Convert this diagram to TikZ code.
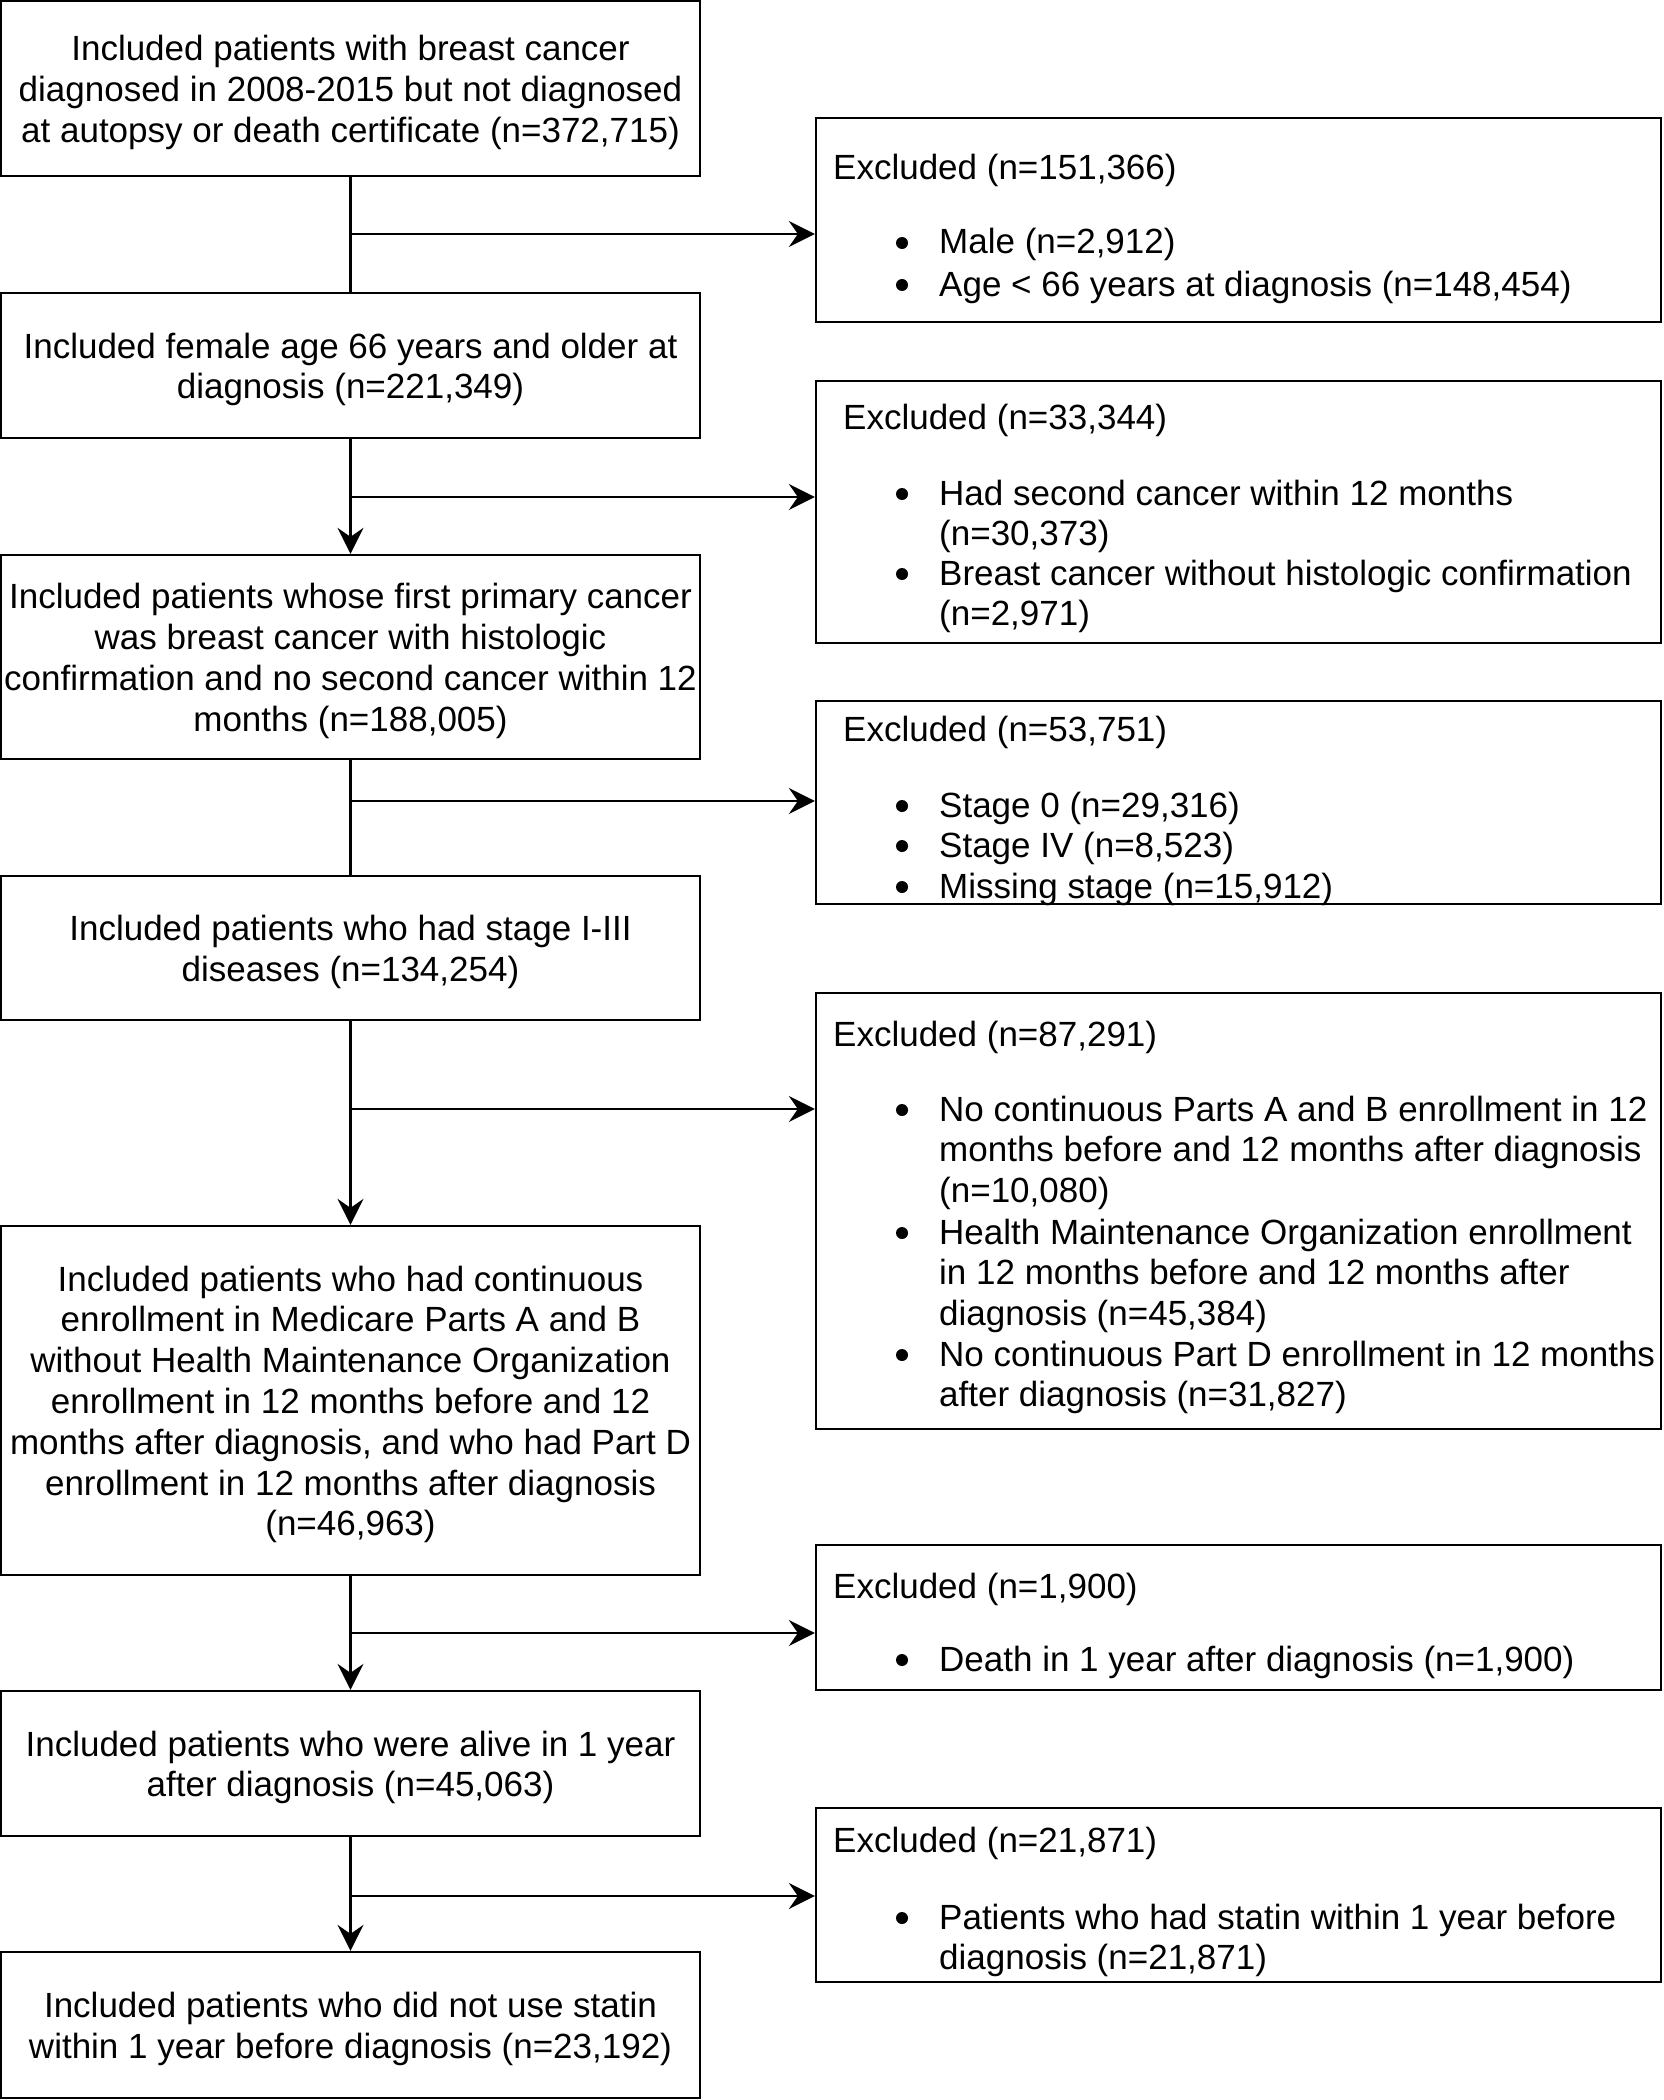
\documentclass[tikz,border=0pt]{standalone}
\usepackage{fontspec}
\setmainfont{Liberation Sans}
\usetikzlibrary{arrows.meta}
\tikzset{
  lw/.style={line width=2.3pt},
  leftbox/.style={draw, lw, rectangle, inner sep=0pt, minimum width=699pt},
  ltxt/.style={inner sep=0pt, align=center},
  rightbox/.style={draw, lw, rectangle, inner sep=0pt, minimum width=845pt},
  txt/.style={inner sep=0pt, anchor=base west},
  dot/.style={circle, fill, inner sep=0pt, minimum size=12pt},
  conn/.style={lw},
  arr/.style={lw, -{Stealth[length=26pt, width=26pt, inset=9pt]}},
}
\begin{document}
\begin{tikzpicture}[x=1pt, y=-1pt, font=\fontsize{35}{40.8}\selectfont]
\useasboundingbox (0,0) rectangle (1663,2100);
% left column
\node[leftbox, minimum height=175pt] (b1) at (350.5,88.5) {};
\node[leftbox, minimum height=145pt] (b2) at (350.5,365.5) {};
\node[leftbox, minimum height=204pt] (b3) at (350.5,657) {};
\node[leftbox, minimum height=144pt] (b4) at (350.5,948) {};
\node[leftbox, minimum height=349pt] (b5) at (350.5,1400.5) {};
\node[leftbox, minimum height=145pt] (b6) at (350.5,1763.5) {};
\node[leftbox, minimum height=146pt] (b7) at (350.5,2025) {};
\node[ltxt] (b1t) at ([yshift=-4pt]b1.center) {Included patients with breast cancer\\diagnosed in 2008-2015 but not diagnosed\\at autopsy or death certificate (n=372,715)};
\node[ltxt] (b2t) at ([yshift=-4pt]b2.center) {Included female age 66 years and older at\\diagnosis (n=221,349)};
\node[ltxt] (b3t) at ([yshift=-4pt]b3.center) {Included patients whose first primary cancer\\was breast cancer with histologic\\confirmation and no second cancer within 12\\months (n=188,005)};
\node[ltxt] (b4t) at ([yshift=-4pt]b4.center) {Included patients who had stage I-III\\diseases (n=134,254)};
\node[ltxt] (b5t) at ([yshift=-4pt]b5.center) {Included patients who had continuous\\enrollment in Medicare Parts A and B\\without Health Maintenance Organization\\enrollment in 12 months before and 12\\months after diagnosis, and who had Part D\\enrollment in 12 months after diagnosis\\(n=46,963)};
\node[ltxt] (b6t) at ([yshift=-4pt]b6.center) {Included patients who were alive in 1 year\\after diagnosis (n=45,063)};
\node[ltxt] (b7t) at ([yshift=-4pt]b7.center) {Included patients who did not use statin\\within 1 year before diagnosis (n=23,192)};
% right column boxes
\node[rightbox, minimum height=204pt] (r1) at (1238.5,220) {};
\node[rightbox, minimum height=262pt] (r2) at (1238.5,512) {};
\node[rightbox, minimum height=203pt] (r3) at (1238.5,802.5) {};
\node[rightbox, minimum height=436pt] (r4) at (1238.5,1211) {};
\node[rightbox, minimum height=145pt] (r5) at (1238.5,1617.5) {};
\node[rightbox, minimum height=174pt] (r6) at (1238.5,1895) {};
% right texts
\node[txt] (t1) at (833,180) {Excluded (n=151,366)};
\node[dot] (d11) at (902,243) {};
\node[txt] (i11) at (939,254) {Male (n=2,912)};
\node[dot] (d12) at (902,285) {};
\node[txt] (i12) at (939,296) {Age < 66 years at diagnosis (n=148,454)};

\node[txt] (t2) at (843,429) {Excluded (n=33,344)};
\node[dot] (d21) at (902,494) {};
\node[txt] (i21) at (939,505) {\vtop{\hbox{Had second cancer within 12 months}\hbox{(n=30,373)}}};
\node[dot] (d22) at (902,574) {};
\node[txt] (i22) at (939,585) {\vtop{\hbox{Breast cancer without histologic confirmation}\hbox{(n=2,971)}}};

\node[txt] (t3) at (843,741) {Excluded (n=53,751)};
\node[dot] (d31) at (902,806) {};
\node[txt] (i31) at (939,817) {Stage 0 (n=29,316)};
\node[dot] (d32) at (902,846) {};
\node[txt] (i32) at (939,857) {Stage IV (n=8,523)};
\node[dot] (d33) at (902,887) {};
\node[txt] (i33) at (939,898) {Missing stage (n=15,912)};

\node[txt] (t4) at (833,1046) {Excluded (n=87,291)};
\node[dot] (d41) at (902,1110) {};
\node[txt] (i41) at (939,1121) {\vtop{\hbox{No continuous Parts A and B enrollment in 12}\hbox{months before and 12 months after diagnosis}\hbox{(n=10,080)}}};
\node[dot] (d42) at (902,1233) {};
\node[txt] (i42) at (939,1244) {\vtop{\hbox{Health Maintenance Organization enrollment}\hbox{in 12 months before and 12 months after}\hbox{diagnosis (n=45,384)}}};
\node[dot] (d43) at (902,1355) {};
\node[txt] (i43) at (939,1366) {\vtop{\hbox{No continuous Part D enrollment in 12 months}\hbox{after diagnosis (n=31,827)}}};

\node[txt] (t5) at (833,1598) {Excluded (n=1,900)};
\node[dot] (d51) at (902,1660) {};
\node[txt] (i51) at (939,1671) {Death in 1 year after diagnosis (n=1,900)};

\node[txt] (t6) at (833,1852) {Excluded (n=21,871)};
\node[dot] (d61) at (902,1918) {};
\node[txt] (i61) at (939,1929) {\vtop{\hbox{Patients who had statin within 1 year before}\hbox{diagnosis (n=21,871)}}};

% junctions
\coordinate (j1) at (350.5,234);
\coordinate (j2) at (350.5,497);
\coordinate (j3) at (350.5,801);
\coordinate (j4) at (350.5,1109);
\coordinate (j5) at (350.5,1633);
\coordinate (j6) at (350.5,1896);
% vertical connectors
\draw[conn] (b1.south) -- (b2.north);
\draw[arr] (b2.south) -- (b3.north);
\draw[conn] (b3.south) -- (b4.north);
\draw[arr] (b4.south) -- (b5.north);
\draw[arr] (b5.south) -- (b6.north);
\draw[arr] (b6.south) -- (b7.north);
% horizontal arrows
\draw[arr] (j1) -- (j1 -| r1.west);
\draw[arr] (j2) -- (j2 -| r2.west);
\draw[arr] (j3) -- (j3 -| r3.west);
\draw[arr] (j4) -- (j4 -| r4.west);
\draw[arr] (j5) -- (j5 -| r5.west);
\draw[arr] (j6) -- (j6 -| r6.west);
\end{tikzpicture}
\end{document}
